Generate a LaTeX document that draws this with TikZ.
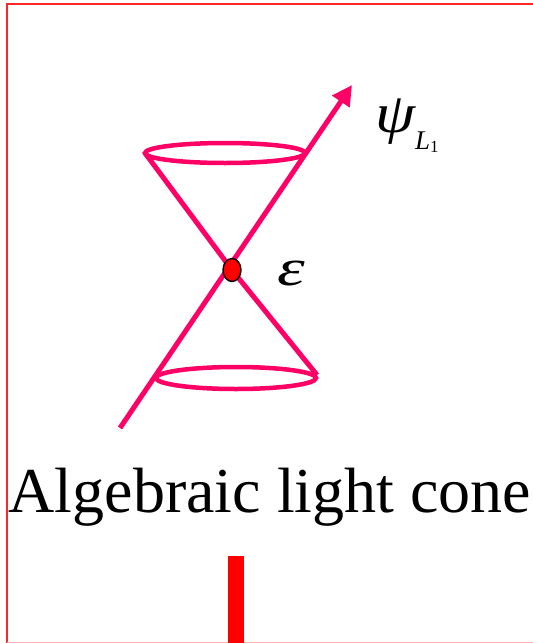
\documentclass[tikz,border=0pt]{standalone}
\usepackage{fontspec}
\setmainfont{Liberation Serif}
\usetikzlibrary{arrows.meta,shapes.geometric}
\definecolor{conepink}{RGB}{255,0,102}
\begin{document}
\begin{tikzpicture}[x=1pt,y=-1pt,
  cone/.style={draw=conepink,line width=5pt},
  ring/.style={draw=conepink,line width=4.5pt},
  frameline/.style={draw=red!85,line width=1.3pt}]
\useasboundingbox (0,0) rectangle (533,643);
% frame
\draw[frameline] (7,650) -- (7,4) -- (540,4);
\draw[red!30,line width=1pt] (7,642) -- (540,642);
% coordinates
\coordinate (tail) at (120,428);
\coordinate (tip) at (352,85);
\coordinate (ul) at (145,153);
\coordinate (lr) at (317,375);
\coordinate (e) at (232,270);
% ellipses
\draw[ring] (225,153) ellipse [x radius=80, y radius=10];
\draw[ring] (236,378) ellipse [x radius=80, y radius=11];
% cone sides
\draw[cone] (ul) -- (e) -- (lr);
% world line
\draw[cone,-{Triangle[length=20pt,width=20pt]}] (tail) -- (tip);
\node[draw=black,fill=red,line width=1.4pt,ellipse,minimum width=18pt,minimum height=23pt,inner sep=0pt] (dot) at (e) {};
% labels
\node[anchor=base west,inner sep=0pt] (psi) at (375,132) {\scalebox{1.15}[1]{\fontsize{56}{56}\selectfont\itshape ψ}\kern0pt\raisebox{-17pt}{\fontsize{27}{27}\selectfont\itshape L\raisebox{-3pt}{\fontsize{17}{17}\selectfont\upshape 1}}};
\node[anchor=base west,inner sep=0pt] (eps) at (277,285) {\scalebox{1.35}[1]{\fontsize{52}{52}\selectfont\itshape ε}};
\node[anchor=base,inner sep=0pt] (title) at (270,512) {\fontsize{64}{64}\selectfont Algebraic light cone};
% bar
\fill[red] (228,556) rectangle (244,643);
\end{tikzpicture}
\end{document}
